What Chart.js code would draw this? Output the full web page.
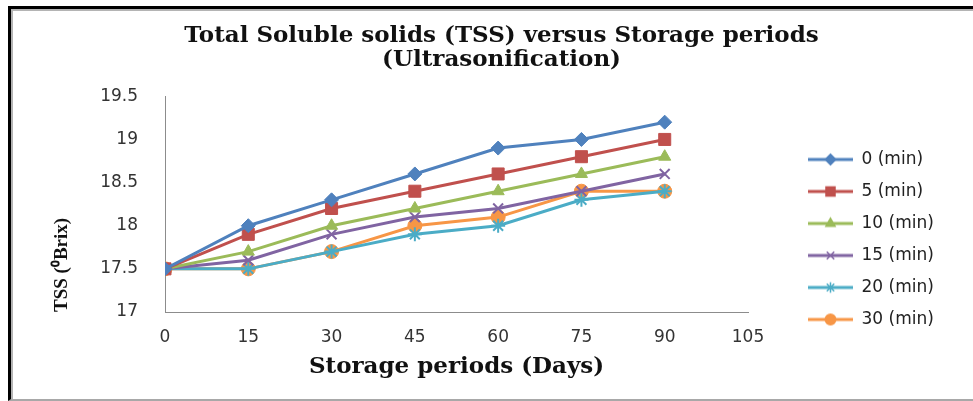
<!DOCTYPE html>
<html>
<head>
<meta charset="utf-8">
<title>TSS versus Storage periods</title>
<script src="https://cdn.jsdelivr.net/npm/chart.js@4.4.1/dist/chart.umd.min.js"></script>
<style>
  html, body { margin: 0; padding: 0; background: #fff; }
  #wrap { position: relative; width: 973px; height: 401px; overflow: hidden; }
  #myChart { position: absolute; left: 0; top: 0; }
  #frame {
    position: absolute; left: 8px; top: 6px; width: 980px; height: 390px;
    border-left: 3px solid #000; border-top: 3px solid #000; border-bottom: 2px solid #a8a8a8;
    box-shadow: inset 2px 2px 0 #b4b4b4; pointer-events: none;
  }
</style>
</head>
<body>
<div id="wrap">
  <canvas id="myChart" width="973" height="401"></canvas>
  <div id="frame"></div>
</div>
<script>
// storage days on the x axis
const storageDays = [0, 15, 30, 45, 60, 75, 90];

// TSS (Brix) per ultrasonification time
const tss0min = [17.5, 18.0, 18.3, 18.6, 18.9, 19.0, 19.2];
const tss5min = [17.5, 17.9, 18.2, 18.4, 18.6, 18.8, 19.0];
const tss10min = [17.5, 17.7, 18.0, 18.2, 18.4, 18.6, 18.8];
const tss15min = [17.5, 17.6, 17.9, 18.1, 18.2, 18.4, 18.6];
const tss20min = [17.5, 17.5, 17.7, 17.9, 18.0, 18.3, 18.4];
const tss30min = [17.5, 17.5, 17.7, 18.0, 18.1, 18.4, 18.4];

const seriesLabels = ["0 (min)", "5 (min)", "10 (min)", "15 (min)", "20 (min)", "30 (min)"];
const seriesValues = [tss0min, tss5min, tss10min, tss15min, tss20min, tss30min];
const seriesColors = ["#4F81BD", "#C0504D", "#9BBB59", "#8064A2", "#4BACC6", "#F79646"];
const seriesMarkers = ["rectRot", "rect", "triangle", "crossRot", "star", "circle"];
const markerSizes = [7, 8.5, 7, 7, 7, 7];

const xMin = 0, xMax = 105, xStep = 15;
const yMin = 17, yMax = 19.5, yStep = 0.5;

const tickFont = { family: "'DejaVu Sans', Verdana, sans-serif", size: 17 };
const serifBold = "'DejaVu Serif', 'Liberation Serif', serif";

// legend sample: blank gap on the left, then line with marker
const LEGEND_GAP = 45;
const LEGEND_W = 90;
function legendImage(i) {
  const c = document.createElement("canvas");
  c.width = LEGEND_W;
  c.height = 16;
  const g = c.getContext("2d");
  g.strokeStyle = seriesColors[i];
  g.fillStyle = seriesColors[i];
  g.lineWidth = 3;
  g.beginPath();
  g.moveTo(LEGEND_GAP, 8);
  g.lineTo(LEGEND_W, 8);
  g.stroke();
  g.lineWidth = 1.5;
  Chart.helpers.drawPoint(g, {
    pointStyle: seriesMarkers[i],
    radius: markerSizes[i] * 0.75,
    rotation: 0,
    borderWidth: 1.5,
  }, LEGEND_GAP + (LEGEND_W - LEGEND_GAP) / 2, 8);
  return c;
}

const ctx = document.getElementById("myChart").getContext("2d");

const chartInstance = new Chart(ctx, {
  type: "line",
  data: {
    datasets: seriesLabels.map((label, i) => ({
      label: label,
      data: storageDays.map((d, j) => ({ x: d, y: seriesValues[i][j] })),
      borderColor: seriesColors[i],
      backgroundColor: seriesColors[i],
      borderWidth: 3,
      pointStyle: seriesMarkers[i],
      pointRadius: markerSizes[i],
      pointBorderWidth: (seriesMarkers[i] === "crossRot" || seriesMarkers[i] === "star") ? 2 : 1,
      pointBorderColor: seriesColors[i],
      pointBackgroundColor: seriesColors[i],
      tension: 0,
    })),
  },
  options: {
    responsive: false,
    animation: false,
    layout: { padding: { left: 42, right: 12, top: 12, bottom: 14 } },
    scales: {
      x: {
        type: "linear",
        min: xMin,
        max: xMax,
        ticks: { stepSize: xStep, padding: 15, color: "#333", font: tickFont },
        grid: { display: false, drawTicks: false },
        border: { display: true, color: "#8c8c8c", width: 1 },
        title: {
          display: true,
          text: "Storage periods (Days)",
          color: "#111",
          font: { family: serifBold, size: 23, weight: "bold" },
          padding: { top: 0, bottom: 6 },
        },
        afterFit: (scale) => {
          scale.height = 75;
          scale.paddingRight = 225;
        },
      },
      y: {
        min: yMin,
        max: yMax,
        ticks: {
          stepSize: yStep,
          padding: 27,
          color: "#333",
          font: tickFont,
          callback: (v) => String(v),
        },
        grid: { display: false, drawTicks: false },
        border: { display: true, color: "#8c8c8c", width: 1 },
        title: {
          display: true,
          text: "TSS (\u2070Brix)",
          align: "start",
          color: "#111",
          font: { family: "'Liberation Serif', serif", size: 19, weight: "bold" },
          padding: { top: 9, bottom: 0 },
        },
        afterFit: (scale) => {
          scale.width = 123;
        },
      },
    },
    plugins: {
      title: {
        display: true,
        text: ["Total Soluble solids (TSS) versus Storage periods", "(Ultrasonification)"],
        color: "#111",
        font: { family: serifBold, size: 23, weight: "bold", lineHeight: 1.05 },
        padding: { top: 12, bottom: 24 },
      },
      legend: {
        position: "right",
        title: { display: true, text: " ", font: { size: 10 }, padding: { top: 34, bottom: 34 } },
        labels: {
          color: "#222",
          font: tickFont,
          padding: 15,
          usePointStyle: true,
          pointStyleWidth: LEGEND_W,
          generateLabels: (chart) => {
            const items = Chart.defaults.plugins.legend.labels.generateLabels(chart);
            return items.map((item, i) => ({ ...item, pointStyle: legendImage(i) }));
          },
        },
      },
      tooltip: { enabled: false },
    },
  },
});
</script>
</body>
</html>
